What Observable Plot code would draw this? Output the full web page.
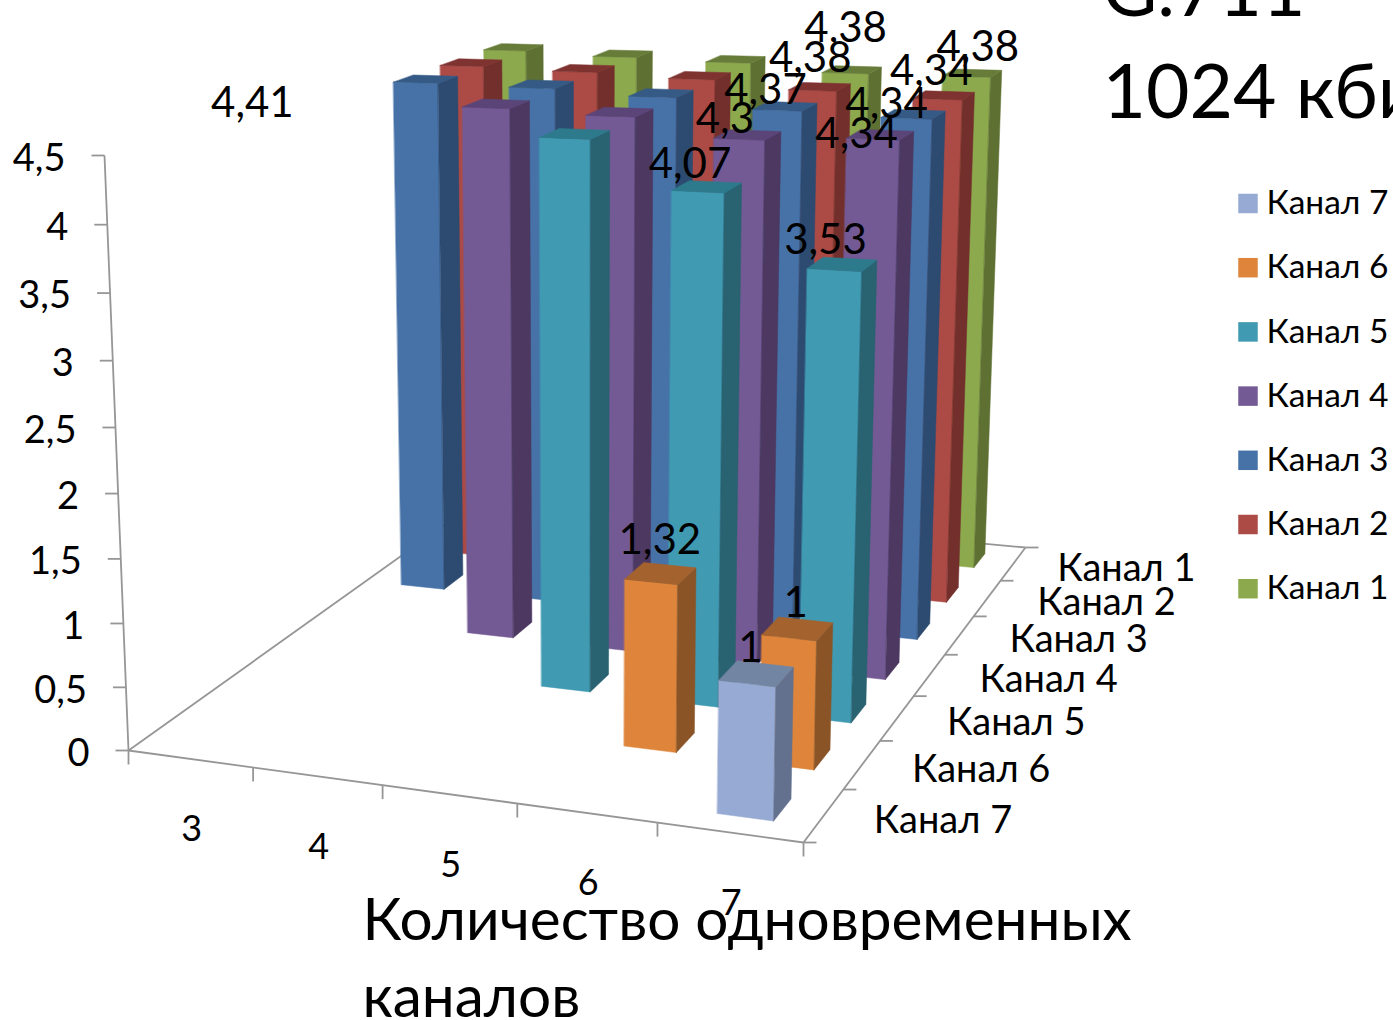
<!DOCTYPE html>
<html lang="ru"><head><meta charset="utf-8">
<style>html,body{margin:0;padding:0;background:#fff;overflow:hidden}svg{display:block}</style>
<script src="https://cdn.jsdelivr.net/npm/d3@7"></script>
<script src="https://cdn.jsdelivr.net/npm/@observablehq/plot@0.6"></script>
</head><body><div id="chart"></div>
<script>
const counts = [3, 4, 5, 6, 7];
const channels = ["Канал 1", "Канал 2", "Канал 3", "Канал 4", "Канал 5", "Канал 6", "Канал 7"];
const valueTicks = [0, 0.5, 1, 1.5, 2, 2.5, 3, 3.5, 4, 4.5];
const kanal1 = [4.41, 4.4, 4.4, 4.38, 4.38];
const kanal2 = [4.41, 4.41, 4.4, 4.38, 4.34];
const kanal3 = [4.41, 4.42, 4.4, 4.37, 4.34];
const kanal4 = [null, 4.41, 4.4, 4.3, 4.34];
const kanal5 = [null, null, 4.39, 4.07, 3.53];
const kanal6 = [null, null, null, 1.32, 1];
const kanal7 = [null, null, null, null, 1];
const series = [kanal1, kanal2, kanal3, kanal4, kanal5, kanal6, kanal7];
const titleLines = ["G.711", "1024 кбит/с"];
const xTitleLines = ["Количество одновременных", "каналов"];

// Styles and layout
const faceColors = [
  ["#8CA94D", "#5E7032", "#667C38"],
  ["#AC4A46", "#732F2C", "#7F3331"],
  ["#4672A8", "#2D4A70", "#345A85"],
  ["#745A94", "#4C3860", "#5A4478"],
  ["#3F9AB2", "#296270", "#2D7A8C"],
  ["#DE853B", "#8A5427", "#A4622E"],
  ["#96AAD3", "#63718F", "#7285A3"]
];
const font = "Lato, 'Open Sans', sans-serif";
const axisColor = "#969696";
const barW = 0.39, barD = 0.42, barShift = 0.02;
const heightTrim = [1, 0.995, 0.99, 0.98, 0.98]; // slight height correction of the reference's perspective, by count
const channelLabelNudge = [-6, 0, 0, 0, 0, 0, 0];

// Perspective of the chart box (unit cube -> screen)
const O=[128,750], A=[803,842], B=[482.6,497], D=[1025,547], C=[104,155], gamma=0.95, maxV=4.5;
const det=(A[0]-D[0])*(B[1]-D[1])-(B[0]-D[0])*(A[1]-D[1]);
const alpha=((O[0]-D[0])*(B[1]-D[1])-(B[0]-D[0])*(O[1]-D[1]))/det;
const beta=((A[0]-D[0])*(O[1]-D[1])-(O[0]-D[0])*(A[1]-D[1]))/det;
function proj(cu, cv, val){ // cu: count bands, cv: channel bands from the front, val: value
  const u=cu/counts.length, v=cv/channels.length, h=val/maxV;
  const w=1+u*(alpha-1)+v*(beta-1)+h*(gamma-1);
  return [0,1].map(i=>(O[i]+u*(alpha*A[i]-O[i])+v*(beta*B[i]-O[i])+h*(gamma*C[i]-O[i]))/w);
}
const faces=[];
let id=0;
function face(pts,color){ id++; pts.forEach(p=>{const [x,y]=proj(...p); faces.push({id,x,y,color});}); }
series.forEach((vals,s)=>{
  const cv=channels.length-s-0.5;
  vals.forEach((raw,c)=>{
    if(raw==null) return;
    const val=raw*heightTrim[c];
    const u0=c+0.5+barShift-barW/2,u1=c+0.5+barShift+barW/2,v0=cv-barD/2,v1=cv+barD/2;
    const [f,r,t]=faceColors[s];
    face([[u0,v0,0],[u1,v0,0],[u1,v0,val],[u0,v0,val]],f);
    face([[u1,v0,0],[u1,v1,0],[u1,v1,val],[u1,v0,val]],r);
    face([[u0,v0,val],[u1,v0,val],[u1,v1,val],[u0,v1,val]],t);
  });
});
const nc=counts.length,nch=channels.length;
const seg=(a,b)=>{const p=proj(...a),q=proj(...b);return {x1:p[0],y1:p[1],x2:q[0],y2:q[1]};};
const axisLines=[seg([0,0,0],[0,0,maxV]),seg([0,0,0],[nc,0,0]),seg([nc,0,0],[nc,nch,0]),seg([0,0,0],[0,nch,0]),seg([nc,nch,0],[0,nch,0])];
const tick=(pt,dx,dy)=>{const p=proj(...pt);return {x1:p[0],y1:p[1],x2:p[0]+dx,y2:p[1]+dy};};
const ticks=[
  ...valueTicks.map(v=>tick([0,0,v],-13,0)),
  ...d3.range(nc+1).map(c=>tick([c,0,0],0,14)),
  ...d3.range(nch+1).map(c=>tick([nc,c,0],13,0))
];
const vLabels=valueTicks.map(v=>({t:String(v).replace(".",","),y:proj(0,0,v)[1]+3,x:proj(0,0,v)[0]}));
const cLabels=counts.map((c,i)=>{const p=proj(i+.5,0,0);return {t:String(c),x:p[0]+1.5,y:p[1]+71};});
const chLabels=channels.map((n,s)=>{const p=proj(nc,nch-s-.5,0);return {t:n,x:p[0]+50+channelLabelNudge[s],y:p[1]+5};});

// Data labels: [series, count index, dx, dy from the top of the bar]
const labelled=[[0,4,8,-26],[1,4,-10,-24],[2,4,-24,-10],[3,4,-21,0],[4,4,-14,-24],[5,4,1,-25],[6,4,-3,-25],
  [0,3,-4,-41],[1,3,-7,-28],[2,3,-17,-16],[3,3,-20,-15],[4,3,-14,-22],[5,3,2,-33],[2,0,-171,24]];
const dataLabels=labelled.map(([s,c,dx,dy])=>{
  const raw=series[s][c],p=proj(c+.5,nch-s-.5,raw*heightTrim[c]);
  return {t:String(raw).replace(".",","),x:p[0]+dx,y:p[1]+dy};
});
const legendRows=channels.map((n,i)=>({t:channels[nch-1-i],c:faceColors[nch-1-i][0],y:203+i*64.2}));
const T=(rows,o)=>Plot.text(rows,{text:"t",x:"x",y:"y",fill:"#000",fontFamily:font,lineAnchor:"middle",...o});

const plot=Plot.plot({
  width:1393,height:1020,margin:0,
  x:{domain:[0,1393],range:[0,1393],axis:null},
  y:{domain:[0,1020],range:[0,1020],axis:null},
  marks:[
    Plot.link(axisLines,{x1:"x1",y1:"y1",x2:"x2",y2:"y2",stroke:axisColor,strokeWidth:1.8}),
    Plot.link(ticks,{x1:"x1",y1:"y1",x2:"x2",y2:"y2",stroke:axisColor,strokeWidth:1.8}),
    Plot.line(faces,{x:"x",y:"y",z:"id",fill:"color",stroke:"color",strokeWidth:0.5,curve:"linear-closed"}),
    T(vLabels,{dx:-39,textAnchor:"end",fontSize:38}),
    T(cLabels,{textAnchor:"middle",fontSize:36}),
    T(chLabels,{textAnchor:"start",fontSize:38}),
    T(dataLabels,{textAnchor:"middle",fontSize:42}),
    T(titleLines.map((t,i)=>({t,x:1102,y:-9+i*102})),{textAnchor:"start",fontSize:75}),
    T(xTitleLines.map((t,i)=>({t,x:362,y:921+i*77})),{textAnchor:"start",fontSize:58.5}),
    Plot.dot(legendRows,{x:1247.5,y:"y",symbol:"square",r:11,fill:"c",stroke:null}),
    T(legendRows.map(d=>({t:d.t,y:d.y,x:1266})),{textAnchor:"start",fontSize:33.5})
  ]
});
document.getElementById("chart").append(plot);
</script></body></html>
